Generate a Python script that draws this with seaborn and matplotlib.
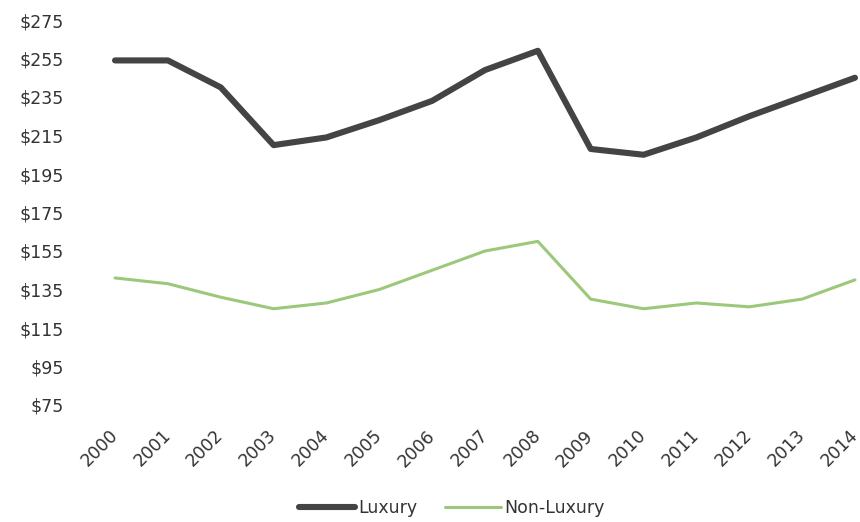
import matplotlib
matplotlib.use("Agg")
import matplotlib.pyplot as plt
import seaborn as sns
import pandas as pd
from matplotlib.lines import Line2D

years = [2000, 2001, 2002, 2003, 2004, 2005, 2006, 2007, 2008, 2009, 2010, 2011, 2012, 2013, 2014]
luxury = [254, 254, 240, 210, 214, 223, 233, 249, 259, 208, 205, 214, 225, 235, 245]
non_luxury = [141, 138, 131, 125, 128, 135, 145, 155, 160, 130, 125, 128, 126, 130, 140]
yticks = [75, 95, 115, 135, 155, 175, 195, 215, 235, 255, 275]

sns.set_theme(style="white")
plt.rcParams['font.family'] = ['DejaVu Sans']

df = pd.DataFrame({
    "Year": years * 2,
    "Value": luxury + non_luxury,
    "Series": ["Luxury"] * len(years) + ["Non-Luxury"] * len(years),
})

fig = plt.figure(figsize=(8.6, 5.22), dpi=100)
ax = fig.add_axes([110.8 / 860, 117 / 522, 748.4 / 860, 385 / 522])

palette = {"Luxury": "#444444", "Non-Luxury": "#9cc87a"}
sns.lineplot(data=df, x="Year", y="Value", hue="Series", palette=palette, ax=ax,
             legend=False, sort=False)
lines = ax.get_lines()
lines[0].set_linewidth(4.4)
lines[0].set_solid_capstyle("round")
lines[1].set_linewidth(2.2)

ax.set_xlim(2000 - 0.08, 2014 + 0.08)
ax.set_ylim(75, 275)
ax.set_yticks(yticks)
ax.set_yticklabels([f"${v}" for v in yticks])
ax.set_xticks(years)
ax.set_xticklabels([str(y) for y in years], rotation=45, ha="right", va="center",
                   rotation_mode="anchor")
ax.tick_params(axis="y", length=0, pad=34, labelsize=12.5, labelcolor="#333333")
ax.tick_params(axis="x", length=0, pad=20, labelsize=12.5, labelcolor="#333333")
ax.set_xlabel("")
ax.set_ylabel("")
for s in ax.spines.values():
    s.set_visible(False)
ax.grid(False)

handles = [Line2D([0], [0], color="#444444", lw=4.4, solid_capstyle="round"),
           Line2D([0], [0], color="#9cc87a", lw=2.2)]
fig.legend(handles, ["Luxury", "Non-Luxury"], loc="center", bbox_to_anchor=(452 / 860, 1 - 508 / 522),
           ncol=2, frameon=False, fontsize=12.5, handlelength=3.2, handletextpad=0.2,
           columnspacing=1.6, labelcolor="#333333")

fig.savefig("out.png", dpi=100)
